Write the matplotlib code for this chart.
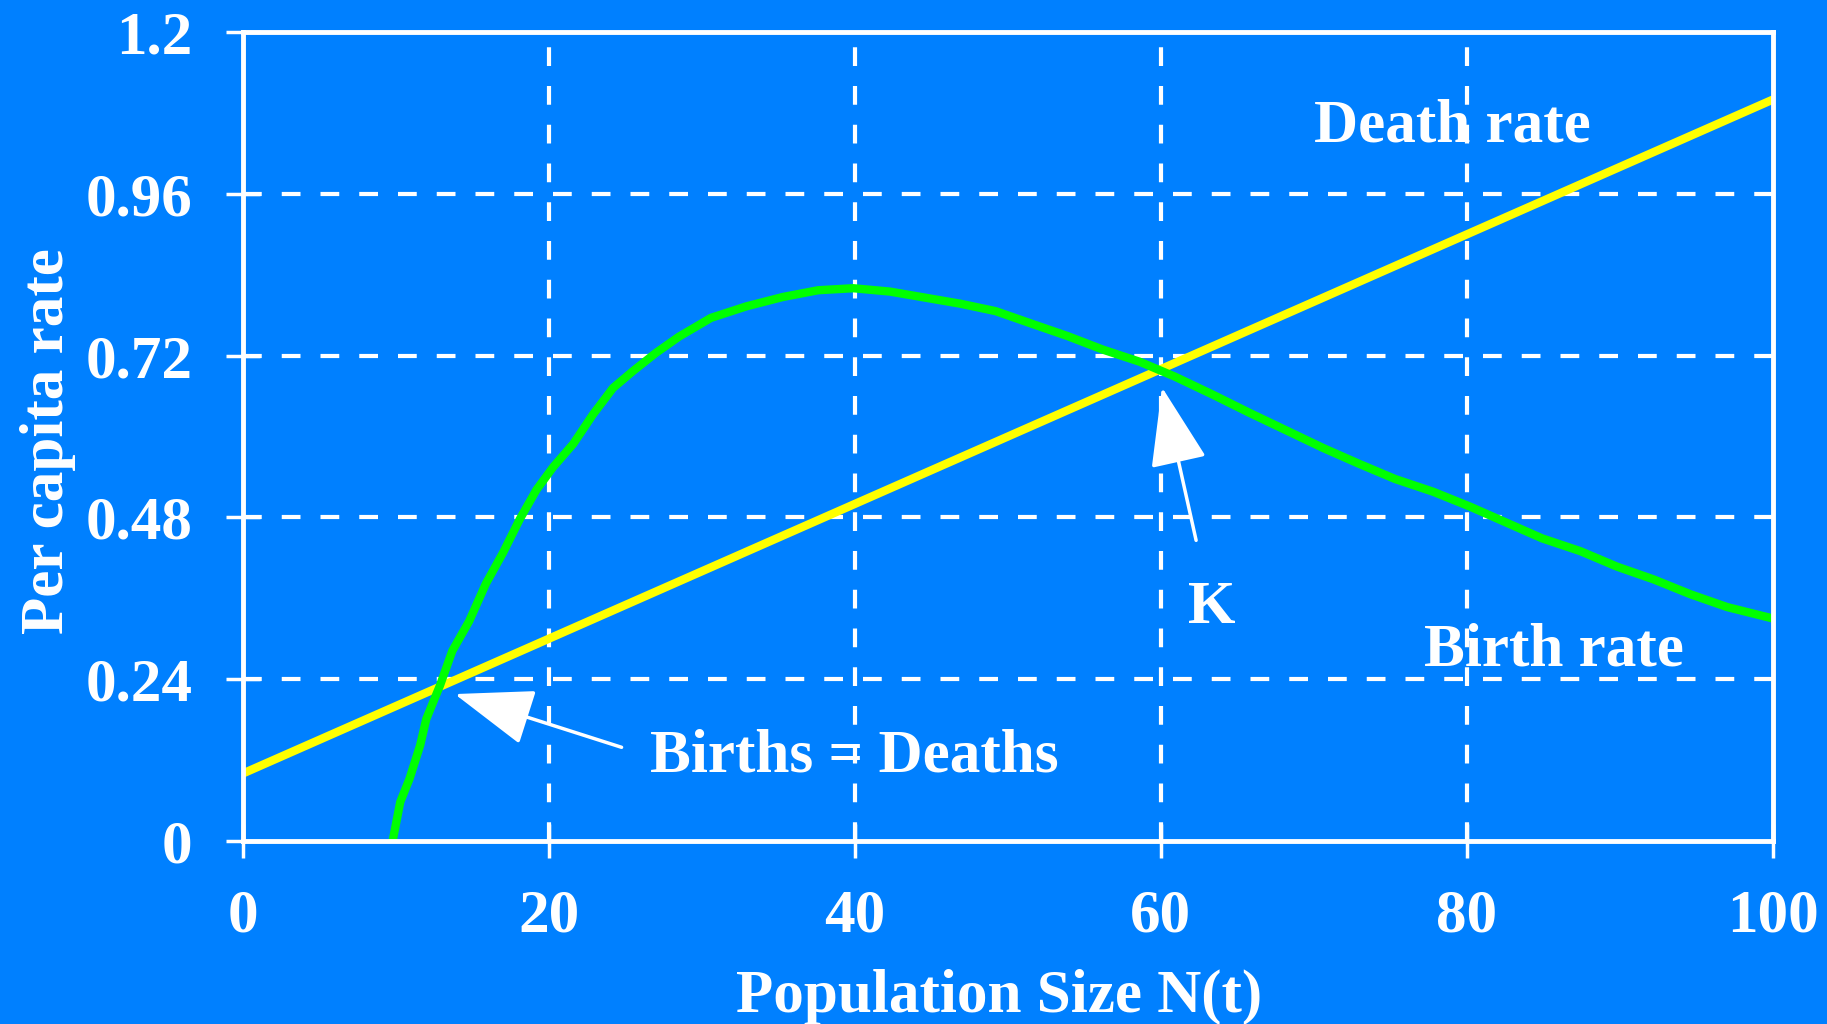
import matplotlib
matplotlib.use("Agg")
import matplotlib.pyplot as plt

# ---- data ----
n_death = [0, 20, 40, 60, 80, 100]
death_rate = [0.10, 0.30, 0.50, 0.70, 0.90, 1.10]

n_birth = [9.8, 10.3, 10.9, 11.6, 12.0, 12.9, 13.7, 14.8, 15.9, 17.0, 18.1,
           19.2, 20.3, 21.6, 22.9, 24.2, 25.5, 27.0, 28.5, 30.6, 32.9, 35.3,
           37.6, 39.9, 42.3, 44.6, 46.9, 49.2, 51.6, 53.9, 56.2, 58.6, 60.9,
           63.4, 65.8, 68.2, 70.6, 72.9, 75.3, 77.8, 80.2, 82.6, 84.9, 87.4,
           89.8, 92.2, 94.6, 97.0, 100.0]
birth_rate = [0.0, 0.058, 0.092, 0.142, 0.181, 0.231, 0.282, 0.326, 0.382,
              0.427, 0.477, 0.521, 0.555, 0.589, 0.633, 0.672, 0.697, 0.724,
              0.748, 0.776, 0.793, 0.807, 0.817, 0.820, 0.815, 0.806, 0.797,
              0.786, 0.767, 0.749, 0.729, 0.711, 0.689, 0.662, 0.635, 0.609,
              0.583, 0.560, 0.537, 0.518, 0.496, 0.472, 0.449, 0.430, 0.407,
              0.388, 0.366, 0.347, 0.330]

x_ticks = [0, 20, 40, 60, 80, 100]
y_ticks = [0, 0.24, 0.48, 0.72, 0.96, 1.2]
y_tick_labels = ["0", "0.24", "0.48", "0.72", "0.96", "1.2"]

BG = "#0080ff"
FONT = "Liberation Serif"
FS = 44

plt.rcParams["font.family"] = [FONT, "DejaVu Serif"]
plt.rcParams["font.weight"] = "bold"

fig = plt.figure(figsize=(18.27, 10.24), dpi=100, facecolor=BG)
ax = fig.add_axes([0.1328, 0.1787, 0.8377, 0.79])
ax.set_facecolor(BG)

#-------------grid / axes--------------------------------------
for v in x_ticks[1:-1]:
    ax.axvline(v, color="white", lw=3, dashes=(4.5, 4.8), zorder=1)
for v in y_ticks[1:-1]:
    ax.axhline(v, color="white", lw=3, dashes=(4.5, 4.8), zorder=1)

for s in ax.spines.values():
    s.set_color("white")
    s.set_linewidth(3.5)
    s.set_zorder(5)

ax.set_xlim(0, 100)
ax.set_ylim(0, 1.2)
ax.set_xticks(x_ticks)
ax.set_yticks(y_ticks)
ax.set_yticklabels(y_tick_labels)
ax.tick_params(axis="both", direction="inout", length=24, width=2.5,
               colors="white", labelsize=FS)
ax.tick_params(axis="y", pad=24)
ax.tick_params(axis="x", pad=22)
for lab in ax.get_xticklabels() + ax.get_yticklabels():
    lab.set_fontweight("bold")

#-------------curves-------------------------------------------
ax.plot(n_death, death_rate, color="#ffff00", lw=6, zorder=3,
        solid_capstyle="butt")
ax.plot(n_birth, birth_rate, color="#00ff00", lw=6, zorder=4,
        solid_capstyle="butt")

#-------------labels-------------------------------------------
txt = dict(color="white", fontsize=FS, fontweight="bold", va="baseline")
ax.text(70.0, 1.037, "Death rate", ha="left", **txt)
ax.text(77.2, 0.260, "Birth rate", ha="left", **txt)
ax.text(61.8, 0.323, "K", ha="left", **txt)
ax.text(26.65, 0.103, "Births = Deaths", ha="left", **txt)

arrow = dict(arrowstyle="-|>,head_length=5,head_width=1.8", mutation_scale=10,
             color="white", lw=2.5, shrinkA=0, shrinkB=0)
ax.annotate("", xy=(13.86, 0.218), xytext=(24.76, 0.139), arrowprops=arrow)
ax.annotate("", xy=(60.07, 0.673), xytext=(62.3, 0.446), arrowprops=arrow)

fig.text(0.5468, 0.0117, "Population Size N(t)", color="white", fontsize=FS,
         fontweight="bold", ha="center", va="baseline")
fig.text(0.026, 0.569, "Per capita rate", color="white", fontsize=FS,
         fontweight="bold", ha="center", va="center", rotation=90)

fig.savefig("out.png", dpi=100, facecolor=BG)
